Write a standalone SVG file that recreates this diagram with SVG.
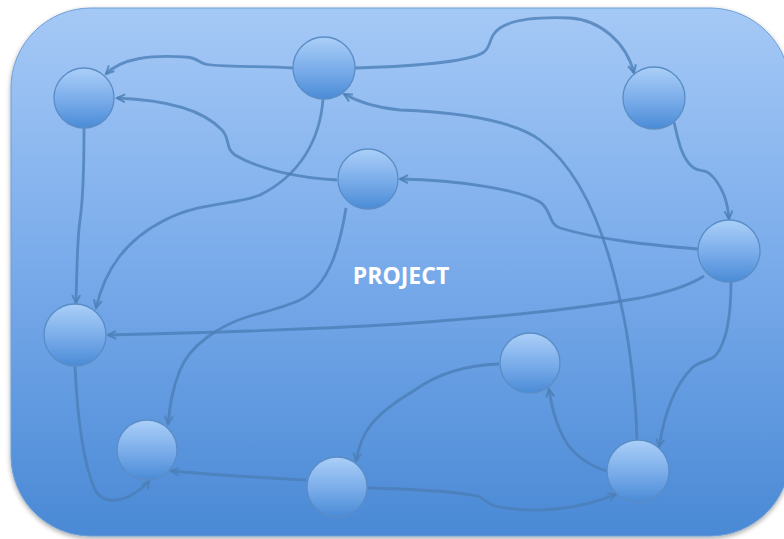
<svg xmlns="http://www.w3.org/2000/svg" width="784" height="539" viewBox="0 0 784 539">
  <defs>
    <linearGradient id="bg" x1="0" y1="0" x2="0" y2="1">
      <stop offset="0" stop-color="#a5c9f6"/>
      <stop offset="0.5" stop-color="#78aaea"/>
      <stop offset="1" stop-color="#4a89d5"/>
    </linearGradient>
    <linearGradient id="ball" x1="0" y1="0" x2="0" y2="1">
      <stop offset="0" stop-color="#abcff8"/>
      <stop offset="0.55" stop-color="#78abe9"/>
      <stop offset="1" stop-color="#4a8bd6"/>
    </linearGradient>
    <filter id="shadow" x="-5%" y="-5%" width="110%" height="115%">
      <feGaussianBlur in="SourceAlpha" stdDeviation="2.5"/>
      <feOffset dx="0" dy="2" result="b"/>
      <feComponentTransfer><feFuncA type="linear" slope="0.35"/></feComponentTransfer>
      <feMerge><feMergeNode/><feMergeNode in="SourceGraphic"/></feMerge>
    </filter>
    <marker id="arrow" markerUnits="userSpaceOnUse" markerWidth="12" markerHeight="12" refX="9" refY="5" orient="auto">
      <path d="M1,1 L9,5 L1,9" fill="none" stroke="#4d80b7" stroke-opacity="0.85" stroke-width="2" stroke-linejoin="miter"/>
    </marker>
    <style>
      .node { fill: url(#ball); stroke: #5a8dc6; stroke-width: 1.3; }
      .edge { fill: none; stroke: #4a7eb6; stroke-opacity: 0.78; stroke-width: 2.8; marker-end: url(#arrow); }
      .title { font-family: "Open Sans", "Liberation Sans", sans-serif; font-weight: 700; font-size: 23px; fill: #ffffff; }
    </style>
  </defs>

  <!-- backdrop panel -->
  <rect x="11" y="8" width="779" height="528" rx="80" ry="80" fill="url(#bg)" stroke="#6e9fd6" stroke-width="1" filter="url(#shadow)"/>

  <text class="title" x="401" y="284" text-anchor="middle">PROJECT</text>

  <!-- connectors -->
  <g id="connectors">
    <path class="edge" d="M293,68 C260,66 215,67 205,64 C198,62 196,57 185,57 C150,55 122,58 106,74"/>
    <path class="edge" d="M355,68 C420,66 470,62 484,52 C492,46 488,36 500,28 C515,18 545,17 570,18 C600,20 626,42 634,73"/>
    <path class="edge" d="M674,122 C678,140 682,160 694,168 C700,172 706,168 714,178 C724,190 728,205 729,219"/>
    <path class="edge" d="M698,249 C650,245 600,240 560,228 C548,224 552,210 540,202 C520,190 460,180 400,179"/>
    <path class="edge" d="M337,180 C300,178 260,170 235,155 C225,148 230,138 222,130 C205,112 170,100 117,98"/>
    <path class="edge" d="M323,99 C320,140 300,175 260,195 C235,205 200,202 165,220 C125,240 105,270 96,308"/>
    <path class="edge" d="M84,128 C84,170 83,200 80,220 C77,240 77,270 76,303"/>
    <path class="edge" d="M346,208 C340,245 330,285 300,300 C285,307 265,312 250,316 C220,325 190,345 180,370 C172,390 170,405 168,424"/>
    <path class="edge" d="M704,276 C690,285 670,292 640,298 C560,312 480,318 400,324 C300,330 200,333 108,335"/>
    <path class="edge" d="M731,282 C731,310 728,340 716,355 C710,362 700,360 692,368 C675,385 665,410 659,447"/>
    <path class="edge" d="M637,440 C636,400 630,340 620,300 C605,230 580,170 540,140 C510,118 450,112 400,110 C380,108 360,103 344,94"/>
    <path class="edge" d="M607,471 C590,466 578,458 568,445 C558,430 552,410 549,389"/>
    <path class="edge" d="M499,364 C470,365 440,372 415,390 C390,405 370,420 362,440 C358,450 357,455 356,461"/>
    <path class="edge" d="M306,480 C270,478 230,476 171,471"/>
    <path class="edge" d="M368,488 C400,489 450,490 477,496 C485,498 485,503 495,506 C530,514 580,510 616,494"/>
    <path class="edge" d="M75,366 C77,410 82,460 95,490 C102,503 118,502 130,496 C138,491 145,487 149,481"/>
  </g>

  <!-- nodes -->
  <g id="node1"><circle class="node" cx="84" cy="98" r="30"/></g>
  <g id="node2"><circle class="node" cx="324" cy="68" r="31"/></g>
  <g id="node3"><circle class="node" cx="368" cy="179" r="30"/></g>
  <g id="node4"><circle class="node" cx="654" cy="98" r="31"/></g>
  <g id="node5"><circle class="node" cx="729" cy="251" r="31"/></g>
  <g id="node6"><circle class="node" cx="75" cy="335" r="31"/></g>
  <g id="node7"><circle class="node" cx="147" cy="450" r="30"/></g>
  <g id="node8"><circle class="node" cx="337" cy="487" r="30"/></g>
  <g id="node9"><circle class="node" cx="530" cy="363" r="30"/></g>
  <g id="node10"><circle class="node" cx="638" cy="471" r="31"/></g>
</svg>
